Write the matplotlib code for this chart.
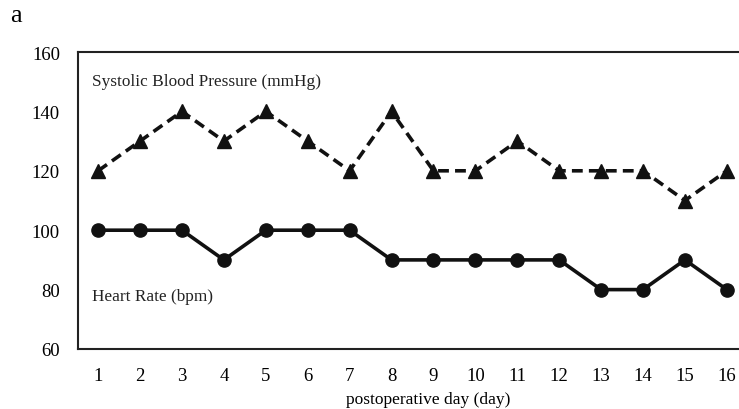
import matplotlib.pyplot as plt

# ── Data ─────────────────────────────────────────────────────────────────────
days = list(range(1, 17))
sbp = [120, 130, 140, 130, 140, 130, 120, 140, 120, 120, 130, 120, 120, 120, 110, 120]
hr = [100, 100, 100, 90, 100, 100, 100, 90, 90, 90, 90, 90, 80, 80, 90, 80]
y_ticks = [60, 80, 100, 120, 140, 160]

plt.rcParams["font.family"] = ["Liberation Serif", "DejaVu Serif"]

fig = plt.figure(figsize=(7.39, 4.10), dpi=100)
ax = fig.add_axes([78 / 739, 60 / 410, 1 - 78 / 739, 297 / 410])

ax.plot(days, sbp, color="#111111", linewidth=2.6, linestyle=(0, (3.0, 1.7)),
        marker="^", markersize=9.5, clip_on=False)
ax.plot(days, hr, color="#111111", linewidth=2.6,
        marker="o", markersize=9.5, clip_on=False)

ax.text(0.86, 150.3, "Systolic Blood Pressure (mmHg)", fontsize=12.4,
        va="center", ha="left", color="#222222")
ax.text(0.86, 77.8, "Heart Rate (bpm)", fontsize=12.4,
        va="center", ha="left", color="#222222")

ax.set_xlim(0.52, 16.29)
ax.set_ylim(60, 160)
ax.set_xticks(days)
ax.set_yticks(y_ticks)
ax.tick_params(length=0, labelsize=13.5, pad=13)
ax.tick_params(axis="y", pad=13)
ax.spines["right"].set_visible(False)
for s in ("left", "bottom", "top"):
    ax.spines[s].set_linewidth(1.5)
    ax.spines[s].set_color("#222222")

ax.set_xlabel("postoperative day (day)", fontsize=12.5)
ax.xaxis.set_label_coords(0.53, -0.14)

fig.text(10 / 739, 1 - 16 / 410, "a", fontsize=19, va="center", ha="left")

fig.savefig("out.png", dpi=100)
